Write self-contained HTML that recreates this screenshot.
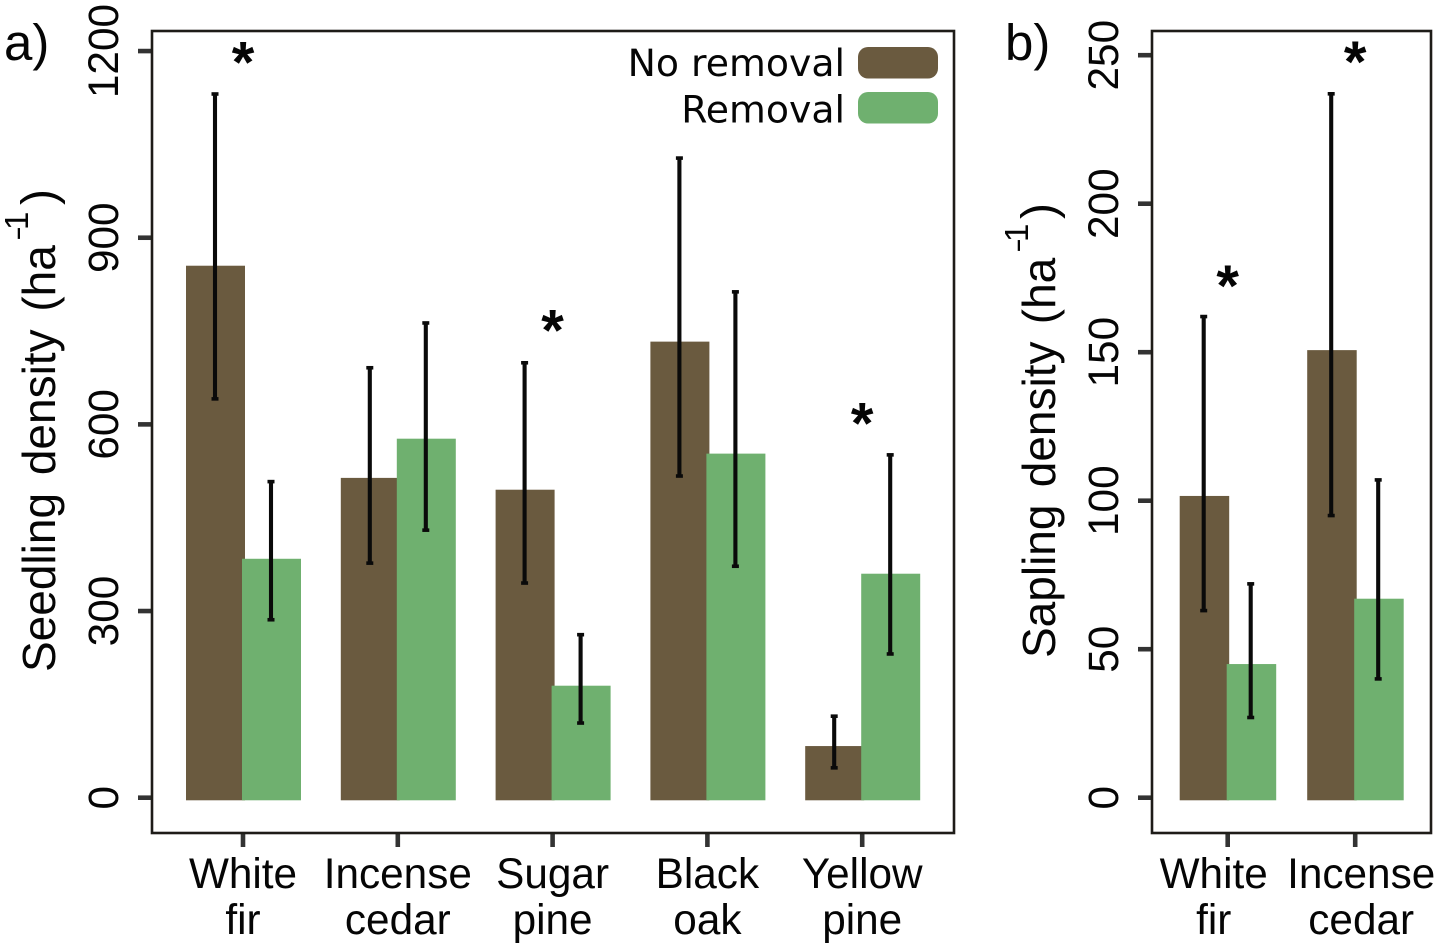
<!DOCTYPE html>
<html>
<head>
<meta charset="utf-8">
<title>Seedling and sapling density</title>
<style>
html,body{margin:0;padding:0;background:#fff;}
svg{display:block;}
text{font-family:"Liberation Sans",sans-serif;fill:#050505;}
.dv{font-family:"DejaVu Sans",sans-serif;}
</style>
</head>
<body>
<svg id="chart" width="1441" height="949" viewBox="0 0 1441 949" xmlns="http://www.w3.org/2000/svg">
  <g>
    <text x="4" y="60" font-size="51">a)</text>
    <g>
      <text transform="translate(55,672) rotate(-90)" font-size="46" word-spacing="5">Seedling density (ha</text>
      <text transform="translate(29.5,240) rotate(-90) scale(0.7,1)" font-size="32">−</text>
      <text transform="translate(28,230) rotate(-90)" font-size="33">1</text>
      <text transform="translate(55,205) rotate(-90)" font-size="48">)</text>
    </g>
  </g>
  <g>
    <text x="1005" y="60" font-size="51">b)</text>
    <g>
      <text transform="translate(1055,658) rotate(-90)" font-size="46" word-spacing="4.5">Sapling density (ha</text>
      <text transform="translate(1029.5,252) rotate(-90) scale(0.7,1)" font-size="32">−</text>
      <text transform="translate(1028,242) rotate(-90)" font-size="33">1</text>
      <text transform="translate(1055,219) rotate(-90)" font-size="48">)</text>
    </g>
  </g>
  <g>
    <text class="dv" x="845" y="76" font-size="37.8" text-anchor="end">No removal</text>
    <rect x="858" y="47" width="80" height="31.5" rx="10" fill="#6a5a3f"></rect>
    <text class="dv" x="845" y="122.5" font-size="37.8" text-anchor="end">Removal</text>
    <rect x="858" y="92" width="80" height="31.5" rx="10" fill="#6fb06f"></rect>
  </g>
</svg>
<script>
// Panel a data
const aCategories = [["White","fir"],["Incense","cedar"],["Sugar","pine"],["Black","oak"],["Yellow","pine"]];
const aTicks = [0,300,600,900,1200];
const aNoRemoval = [855,514,495,733,83];
const aRemoval = [384,577,180,553,360];
const aNoRemovalUpper = [1131,691,699,1028,131];
const aNoRemovalLower = [641,377,345,517,48];
const aRemovalUpper = [508,763,262,813,551];
const aRemovalLower = [286,430,120,372,231];
const aStars = [1193,null,762,null,613];

// Panel b data
const bCategories = [["White","fir"],["Incense","cedar"]];
const bTicks = [0,50,100,150,200,250];
const bNoRemoval = [101.6,150.7];
const bRemoval = [45,67];
const bNoRemovalUpper = [162,237];
const bNoRemovalLower = [63,95];
const bRemovalUpper = [72,107];
const bRemovalLower = [27,40];
const bStars = [174.6,250];

const NS = "http://www.w3.org/2000/svg";
const svg = document.getElementById("chart");
const BROWN = "#6a5a3f", GREEN = "#6fb06f";

function make(tag, attrs, parent, txt){
  const el = document.createElementNS(NS, tag);
  for (const k in attrs) el.setAttribute(k, attrs[k]);
  if (txt !== undefined) el.textContent = txt;
  parent.appendChild(el);
  return el;
}

function drawPanel(p){
  const y = v => p.zeroY - v * p.pxPerUnit;
  const x = i => p.firstX + i * p.band;
  const baseY = 800.3;

  const g = make("g", {}, svg);
  
  

  function bar(i, vals, color, label, left, right){
    const r = make("rect", {x: x(i)+left, y: y(vals[i]), width: right-left, height: baseY - y(vals[i]), fill: color}, g);
    
    
  }
  function err(i, up, lo, cx, label){
    const l = make("line", {x1: x(i)+cx, x2: x(i)+cx, y1: y(up[i]), y2: y(lo[i]), stroke: "#0a0a0a", "stroke-width": 4.1}, g);
    
    
    [up[i], lo[i]].forEach(v => {
      const c = make("line", {x1: x(i)+cx-3.5, x2: x(i)+cx+3.5, y1: y(v), y2: y(v), stroke: "#0a0a0a", "stroke-width": 3.6}, g);
      
      
    });
  }

  p.cats.forEach((cat, i) => {
    bar(i, p.noRemoval, BROWN, 'no-removal', p.bLeft, p.bBrownRight);
    bar(i, p.removal, GREEN, 'removal', p.bMid, p.bRight);
    err(i, p.noUp, p.noLo, p.eLeft, 'no-removal');
    err(i, p.reUp, p.reLo, p.eRight, 'removal');

    if (p.stars[i] !== null) {
      const s = make("text", {x: x(i), y: y(p.stars[i]) + 27, "font-size": 58, "font-weight": "bold", "text-anchor": "middle"}, g, "*");
      
      
    }

    const t = make("line", {x1: x(i), x2: x(i), y1: p.bottom, y2: p.bottom + 14, stroke: "#333", "stroke-width": 4.6}, g);
    
    

    cat.forEach((line, j) => {
      const lbl = make("text", {x: x(i) + (p.labelShift[i] || 0), y: 888 + j * 46, "font-size": 42.3, "text-anchor": "middle"}, g, line);
      
      
    });
  });

  p.ticks.forEach(v => {
    const t = make("line", {x1: p.left - 14, x2: p.left, y1: y(v), y2: y(v), stroke: "#333", "stroke-width": 4.6}, g);
    
    
    const lbl = make("text", {transform: "translate(" + (p.left - 34) + "," + y(v) + ") rotate(-90)", "font-size": 42.3, "text-anchor": "middle"}, g, String(v));
    
    
  });

  const f = make("rect", {x: p.left, y: 31, width: p.right - p.left, height: p.bottom - 31, fill: "none", stroke: "#1e1c18", "stroke-width": 2.6}, g);
  
  
}

drawPanel({
  id: 'panel-a', cats: aCategories, ticks: aTicks,
  noRemoval: aNoRemoval, removal: aRemoval,
  noUp: aNoRemovalUpper, noLo: aNoRemovalLower, reUp: aRemovalUpper, reLo: aRemovalLower,
  stars: aStars, zeroY: 797.7, pxPerUnit: 0.6222, firstX: 243, band: 154.8,
  bLeft: -57, bBrownRight: 2, bMid: -1, bRight: 58, eLeft: -28, eRight: 28,
  left: 152, right: 954, bottom: 833, labelShift: []
});

drawPanel({
  id: 'panel-b', cats: bCategories, ticks: bTicks,
  noRemoval: bNoRemoval, removal: bRemoval,
  noUp: bNoRemovalUpper, noLo: bNoRemovalLower, reUp: bRemovalUpper, reLo: bRemovalLower,
  stars: bStars, zeroY: 797.7, pxPerUnit: 2.97, firstX: 1227.7, band: 127.5,
  bLeft: -48, bBrownRight: 1.5, bMid: -1, bRight: 48.5, eLeft: -24, eRight: 23,
  left: 1152, right: 1431, bottom: 833, labelShift: [-14, 6]
});
</script>
</body>
</html>
